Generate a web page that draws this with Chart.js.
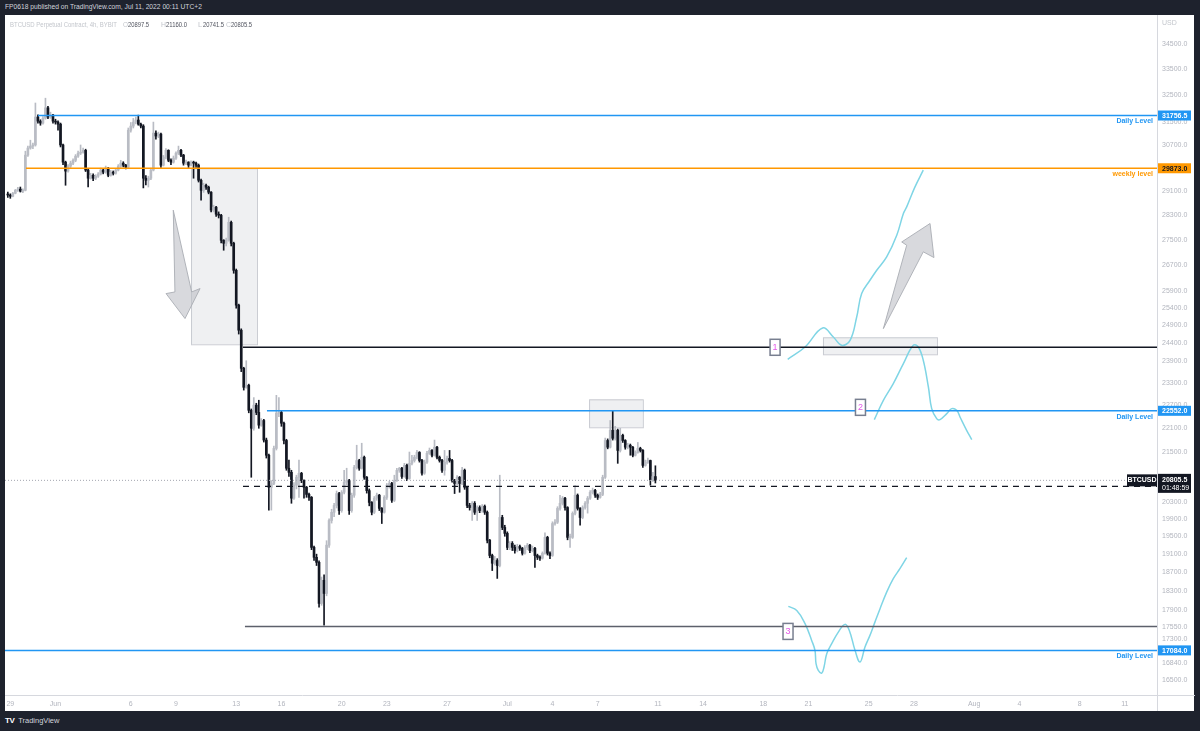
<!DOCTYPE html>
<html><head><meta charset="utf-8">
<script src="https://cdn.jsdelivr.net/npm/chart.js@4.4.1/dist/chart.umd.min.js"></script>
<style>
html,body{margin:0;padding:0;background:#1e222d;width:1200px;height:731px;overflow:hidden;font-family:"Liberation Sans",Arial,sans-serif}
#panel{position:absolute;left:5px;top:15px;width:1189px;height:696px;background:#ffffff}
#c{position:absolute;left:5px;top:15px}
#banner{position:absolute;left:5px;top:3px;color:#d1d4dc;font-size:6.7px;white-space:nowrap}
#footer{position:absolute;left:5px;top:716px;color:#d1d4dc;font-size:7.5px;white-space:nowrap}
#footer .logo{font-weight:bold;font-size:8px;letter-spacing:-0.5px;margin-right:2px;color:#fff}
</style></head>
<body>
<div id="banner">FP0618 published on TradingView.com, Jul 11, 2022 00:11 UTC+2</div>
<div id="panel"></div>
<canvas id="c" width="1190" height="696"></canvas>
<div id="footer"><span class="logo">TV</span> TradingView</div>
<script>
// ---------- data ----------
const candleStartDay = -3.1667;      // May 28 20:00 (days relative to Jun 1)
const candleStepDays = 4 / 24;       // 4h candles
const firstOpen = 28990;
const closes = [
28960,28920,29020,29120,29160,29090,29120,30330,30580,30650,
30690,31700,31550,31480,31660,32040,31700,31770,31550,31515,
31440,30690,30085,29775,29945,30050,30150,30295,30400,30435,
30500,29810,29530,29630,29530,29600,29670,29810,29740,29875,
29630,29740,29700,29810,29945,30050,29980,29910,31220,31370,
31515,31590,31440,31370,29530,29460,29530,29810,31115,31010,
31080,29980,30260,30500,30150,30085,30225,30400,30500,30330,
30050,30085,29980,30085,30050,29980,29460,29120,29290,29225,
29055,28460,28555,28325,28290,27480,27385,27480,28060,27385,
26540,25490,24760,23690,23175,23230,22565,22100,22700,22510,
22180,22300,21800,21420,20640,20730,21590,22490,22510,22230,
21790,21100,21000,20380,20690,20880,20975,20800,20640,20470,
20400,19250,19030,18920,18040,18530,18250,19300,19860,20050,
20210,20490,20090,20520,20760,20800,20090,20450,21120,21290,
21100,21370,20880,20560,20280,20050,20380,20450,20140,20050,
20400,20690,20730,20330,20800,21050,21100,20900,21170,20850,
21220,21290,21370,21490,21290,20980,21250,21470,21540,21420,
21620,21370,21290,21050,21250,21340,21290,20800,20730,20880,
20730,21050,20640,20210,20160,20260,20050,20160,20090,20190,
20050,19410,19070,18900,18960,18850,19930,19700,19565,19250,
19340,19250,19180,19270,19230,19120,19250,19300,19180,19230,
19070,19030,19010,19120,19475,19120,19070,19790,19820,20140,
20260,20380,20160,19475,19475,20025,20450,20140,19930,20160,
20260,20380,20520,20565,20450,20400,20470,20880,21790,21620,
22050,21845,22050,21540,21920,21790,21620,21670,21620,21420,
21490,21590,21540,21170,21245,21290,20820,20897.5,20805.5];
const highs = [
29060,29000,29050,29150,29220,29230,29170,30470,30650,30860,
30760,32220,31780,31600,31720,32400,32100,31880,31800,31620,
31560,31480,30720,30120,30000,30120,30200,30350,30470,30690,
30580,30540,29850,29700,29680,29650,29720,29880,29850,29950,
29900,29800,29780,29850,30000,30150,30100,30010,31300,31500,
31650,31700,31770,31480,31420,29620,29600,29880,31515,31200,
31150,31120,30320,30560,30520,30200,30300,30450,30650,30540,
30360,30160,30100,30130,30120,30090,30020,29500,29360,29330,
29260,29080,28620,28580,28400,28320,27500,27550,28225,28100,
27420,26580,25520,24800,23720,23900,23260,22600,22900,22750,
22830,22350,22330,21850,21450,20800,21650,22960,22900,22550,
22260,21820,21300,21050,20750,20930,21300,21000,20820,20660,
20500,20420,19280,19100,18950,18600,18650,19400,19900,20120,
20260,20550,20520,20560,21050,21100,20830,20500,21170,21670,
21320,21720,21400,20900,20600,20300,20420,20500,20470,20160,
20440,20730,20780,20760,20930,21100,21120,21120,21220,21200,
21500,21420,21420,21540,21510,21320,21300,21520,21600,21560,
21800,21640,21400,21320,21540,21400,21540,21320,20830,20920,
20900,21120,21080,20660,20260,20300,20300,20200,20200,20230,
20220,20080,19430,19100,19050,19000,20930,19980,19750,19600,
19380,19380,19300,19320,19300,19250,19290,19340,19320,19280,
19250,19100,19060,19150,19580,19500,19150,19830,19880,20180,
20450,20420,20400,20180,19550,20060,20680,20480,20160,20200,
20300,20420,20560,20620,20590,20480,20520,20930,21850,21830,
22300,22560,22150,22080,22100,21950,21810,21720,21700,21640,
21530,21740,21620,21560,21300,21350,21300,21000,21160];
const lows = [
28880,28850,28900,29000,29080,29060,29040,29100,30290,30540,
30560,30650,31480,31400,31440,31620,31640,31650,31480,31440,
31220,30620,30000,29290,29740,29900,30000,30100,30250,30350,
30400,29760,29230,29500,29450,29480,29560,29640,29680,29700,
29580,29600,29640,29670,29780,29900,29920,29850,29880,31150,
31300,31450,31400,31300,29200,29300,29230,29480,29780,30900,
30950,29900,29950,30200,30100,30000,30050,30180,30350,30280,
29980,30000,29900,29950,29530,29900,29400,28790,29050,29150,
29000,28400,28400,28250,28200,27400,27165,27300,27450,27300,
26450,25400,24650,23600,23100,23150,22500,20880,22050,22450,
22100,22150,21750,21350,20100,20100,20700,21550,22400,22150,
21700,21050,20900,20260,20350,20600,20400,20750,20380,20400,
20330,19200,18960,18850,17960,18000,17590,18200,19250,19800,
19950,20150,20000,20050,20480,20700,20000,20050,20400,21080,
21050,21080,20830,20500,20200,19990,20020,20330,20090,19790,
20030,20350,20620,20280,20300,20780,21000,20850,20880,20800,
20830,21180,21250,21330,21250,20930,20950,21220,21440,21380,
21400,21330,21250,21000,20930,21200,21250,20760,20490,20700,
20520,20700,20590,20160,20100,19860,20000,19860,20040,20050,
20000,19350,19020,18740,18860,18570,18820,19650,19500,19200,
19200,19180,19120,19150,19180,19080,19100,19200,19130,19150,
18810,18980,18960,18990,19100,19080,19000,19050,19750,19790,
20100,20220,20100,19420,19250,19450,19990,20100,19750,19900,
20120,20030,20350,20480,20400,20350,20380,20440,20850,21580,
21600,21800,21800,21220,21500,21740,21570,21580,21420,21380,
21400,21470,21500,21120,21150,21220,20690,20780,20741.5];

// axes
const xMinDay = -3.353, xMaxDay = 73.14;
const yMinPrice = 16223, yMaxPrice = 35680;
const tickDays = [-3,0,5,8,12,15,19,22,26,30,33,36,40,43,47,50,54,57,61,64,68,71];
const tickLabels = ['29','Jun','6','9','13','16','20','23','27','Jul','4','7','11','14','18','21','25','28','Aug','4','8','11'];
const priceTicks = [34500,33500,32500,31500,30700,29100,28300,27500,26700,25900,25400,24900,24400,23900,23300,22700,22100,21500,20700,20300,19900,19500,19100,18700,18300,17900,17550,17300,16840,16500];

// header legend
const legendTitle = 'BTCUSD Perpetual Contract, 4h, BYBIT';
const legendKeys = ['O', 'H', 'L', 'C'];
const legendValues = ['20897.5', '21160.0', '20741.5', '20805.5'];

// horizontal levels
const levelPrices = [31756.5, 29873.0, 24275, 22552.0, 20660, 17565, 17084.0, 20805.5];
const levelStartDays = [-1.16, -1.96, 12.45, 14.04, 12.45, 12.58, -3.353, -3.353];
const levelNotes = ['Daily Level', 'weekly level', '', 'Daily Level', '', '', 'Daily Level', ''];

// rectangles (days, prices)
const zoneStartDays = [9.0, 35.43, 50.96];
const zoneEndDays = [13.38, 39.0, 58.53];
const zoneTopPrices = [29873, 22854, 24558];
const zoneBottomPrices = [24360, 22126, 24079];

// arrows (polygon vertices)
const arrowDownDays = [7.82, 7.93, 7.34, 8.60, 9.60, 9.04];
const arrowDownPrices = [28456, 25883, 25834, 25097, 25985, 25883];
const arrowUpDays = [54.97, 56.52, 56.19, 58.07, 58.33, 57.62];
const arrowUpPrices = [24806, 27323, 27427, 28020, 26936, 27115];

// numbered notes
const markerLabels = ['1', '2', '3'];
const markerDays = [47.78, 53.45, 48.64];
const markerPrices = [24275, 22643, 17464];

// hand-drawn projection paths
const pathADays = [48.62,49.77,50.94,51.65,52.20,52.76,53.20,53.53,54.08,54.53,55.19,55.86,56.30,56.52,57.07,57.62];
const pathAPrices = [23940,24283,24824,24566,24331,24472,25143,25835,26236,26542,26955,27642,28347,28565,29235,29807];
const pathBDays = [54.37,54.97,55.63,56.30,56.96,57.29,57.62,57.96,58.18,58.51,58.73,59.18,59.51,59.84,60.06,60.50,60.84];
const pathBPrices = [22323,22828,23275,23821,24331,24283,23912,23183,22610,22349,22323,22478,22610,22565,22391,22048,21812];
const pathCDays = [48.66,49.22,49.77,50.21,50.43,50.50,50.65,50.88,51.03,51.21,51.54,51.98,52.42,52.71,53.09,53.42,53.75,54.08,54.41,54.75,55.19,55.63,56.07,56.52];
const pathCPrices = [17978,17894,17621,17283,17084,16823,16693,16641,16758,17019,17217,17450,17607,17484,17084,16854,17150,17384,17653,17930,18278,18565,18781,19023];

// ---------- styles ----------
const UP = '#b9bcc4', DOWN = '#131722';
const BLUE = '#2196f3', ORANGE = '#ff9800', CYAN = '#7fd5e5';
const FONT = '"Liberation Sans", Arial, sans-serif';
const levelColors = [BLUE, ORANGE, '#131722', BLUE, '#131722', '#5d606b', BLUE, '#a3a6af'];
const levelDash = [[], [], [], [], [6,5], [], [], [1,2]];
const levelWidth = [1.5, 1.5, 1.5, 1.5, 1.2, 1.5, 1.5, 1];

// ---------- build ----------
const xs = closes.map((_, i) => candleStartDay + i * candleStepDays);
const opens = closes.map((c, i) => i === 0 ? firstOpen : closes[i - 1]);
const candleColors = closes.map((c, i) => c >= opens[i] ? UP : DOWN);

const datasets = [];
datasets.push({
  type: 'bar', label: 'body', order: 1, grouped: false,
  data: xs.map((x, i) => ({x, y: [opens[i], closes[i]]})),
  backgroundColor: candleColors, barThickness: 2, minBarLength: 1, borderWidth: 0
});
datasets.push({
  type: 'bar', label: 'wick', order: 2, grouped: false,
  data: xs.map((x, i) => ({x, y: [lows[i], highs[i]]})),
  backgroundColor: candleColors, barThickness: 1, minBarLength: 1, borderWidth: 0
});
levelPrices.forEach((p, k) => {
  datasets.push({
    type: 'line', order: 0,
    data: [{x: levelStartDays[k], y: p}, {x: xMaxDay, y: p}],
    borderColor: levelColors[k], borderWidth: levelWidth[k], borderDash: levelDash[k],
    pointRadius: 0, fill: false
  });
});
[[pathADays, pathAPrices], [pathBDays, pathBPrices], [pathCDays, pathCPrices]].forEach(([d, p]) => {
  datasets.push({
    type: 'line', order: 0,
    data: d.map((x, i) => ({x, y: p[i]})),
    borderColor: CYAN, borderWidth: 1.5, tension: 0.4, pointRadius: 0, fill: false
  });
});

function P(chart, d, p) {
  return [chart.scales.x.getPixelForValue(d), chart.scales.y.getPixelForValue(p)];
}
function poly(ctx, pts) {
  ctx.beginPath();
  pts.forEach((pt, i) => i ? ctx.lineTo(pt[0], pt[1]) : ctx.moveTo(pt[0], pt[1]));
  ctx.closePath();
}

const overlay = {
  id: 'overlay',
  beforeDatasetsDraw(chart) {
    const ctx = chart.ctx, a = chart.chartArea;
    ctx.save();
    ctx.beginPath(); ctx.rect(a.left, a.top, a.right - a.left, a.bottom - a.top); ctx.clip();
    zoneStartDays.forEach((d, k) => {
      const [x1, y1] = P(chart, d, zoneTopPrices[k]);
      const [x2, y2] = P(chart, zoneEndDays[k], zoneBottomPrices[k]);
      ctx.fillStyle = 'rgba(214,216,222,0.38)';
      ctx.fillRect(x1, y1, x2 - x1, y2 - y1);
      ctx.strokeStyle = 'rgba(190,193,200,0.8)'; ctx.lineWidth = 1;
      ctx.strokeRect(x1 + 0.5, y1 + 0.5, x2 - x1, y2 - y1);
    });
    ctx.restore();
  },
  afterDatasetsDraw(chart) {
    const ctx = chart.ctx, a = chart.chartArea;
    ctx.save();
    [[arrowDownDays, arrowDownPrices], [arrowUpDays, arrowUpPrices]].forEach(([d, p]) => {
      poly(ctx, d.map((x, i) => P(chart, x, p[i])));
      ctx.fillStyle = 'rgba(190,192,198,0.6)'; ctx.fill();
      ctx.strokeStyle = 'rgba(170,173,180,0.9)'; ctx.lineWidth = 1; ctx.stroke();
    });
    ctx.font = 'bold 7px ' + FONT; ctx.textAlign = 'right'; ctx.textBaseline = 'middle';
    levelNotes.forEach((t, k) => {
      if (!t) return;
      const y = chart.scales.y.getPixelForValue(levelPrices[k]);
      ctx.fillStyle = levelColors[k];
      ctx.fillText(t, a.right - 4, y + 6);
    });
    markerLabels.forEach((t, k) => {
      const [x, y] = P(chart, markerDays[k], markerPrices[k]);
      ctx.fillStyle = '#ffffff'; ctx.fillRect(x - 5, y - 8, 10, 16);
      ctx.strokeStyle = '#787f90'; ctx.lineWidth = 1.5; ctx.strokeRect(x - 5, y - 8, 10, 16);
      ctx.fillStyle = '#e357e8'; ctx.font = '9px ' + FONT; ctx.textAlign = 'center'; ctx.textBaseline = 'middle';
      ctx.fillText(t, x, y + 0.5);
    });
    const yc = chart.scales.y.getPixelForValue(levelPrices[7]);
    ctx.fillStyle = '#131722'; ctx.fillRect(a.right - 30, yc - 6, 30, 12);
    ctx.fillStyle = '#ffffff'; ctx.font = 'bold 7px ' + FONT; ctx.textAlign = 'center';
    ctx.fillText('BTCUSD', a.right - 15, yc);
    ctx.restore();
  },
  afterDraw(chart) {
    const ctx = chart.ctx, a = chart.chartArea, W = chart.width, H = chart.height;
    ctx.save();
    // header legend
    ctx.textAlign = 'left'; ctx.textBaseline = 'middle'; ctx.font = '7.5px ' + FONT;
    ctx.fillStyle = '#c3c6cc';
    ctx.fillText(legendTitle, 5, 9.5, 107);
    const keyX = [118, 156, 193, 221];
    legendKeys.forEach((k, i) => {
      ctx.fillStyle = '#c3c6cc'; ctx.fillText(k, keyX[i], 9.5, 5);
      ctx.fillStyle = '#50535e'; ctx.fillText(legendValues[i], keyX[i] + 5, 9.5, 21);
    });
    // separators
    ctx.strokeStyle = '#d6d8de'; ctx.lineWidth = 1;
    ctx.beginPath(); ctx.moveTo(a.right + 0.5, 0); ctx.lineTo(a.right + 0.5, H); ctx.stroke();
    ctx.beginPath(); ctx.moveTo(0, a.bottom + 0.5); ctx.lineTo(W, a.bottom + 0.5); ctx.stroke();
    ctx.fillStyle = '#c3c6cc'; ctx.font = '7px ' + FONT;
    ctx.fillText('USD', a.right + 5, 8);
    [0, 1, 3, 6].forEach(k => {
      const y = chart.scales.y.getPixelForValue(levelPrices[k]);
      ctx.fillStyle = levelColors[k];
      ctx.fillRect(a.right + 1, y - 5, 33, 10);
      ctx.fillStyle = k === 1 ? '#131722' : '#ffffff';
      ctx.font = 'bold 7px ' + FONT;
      ctx.fillText(levelPrices[k].toFixed(1), a.right + 5, y + 0.5);
    });
    const yc = chart.scales.y.getPixelForValue(levelPrices[7]);
    ctx.fillStyle = '#131722'; ctx.fillRect(a.right + 1, yc - 6.5, 33, 19);
    ctx.fillStyle = '#ffffff'; ctx.font = 'bold 7px ' + FONT;
    ctx.fillText(levelPrices[7].toFixed(1), a.right + 5, yc);
    ctx.font = '7px ' + FONT;
    ctx.fillText('01:48:59', a.right + 5, yc + 7.5);
    ctx.restore();
  }
};

function noPad(s) { s.paddingTop = 0; s.paddingBottom = 0; s.paddingLeft = 0; s.paddingRight = 0; }

new Chart(document.getElementById('c'), {
  type: 'bar',
  data: {datasets},
  plugins: [overlay],
  options: {
    responsive: false, animation: false, devicePixelRatio: 1,
    layout: {padding: 0},
    plugins: {legend: {display: false}, tooltip: {enabled: false}},
    scales: {
      x: {
        type: 'linear', min: xMinDay, max: xMaxDay, offset: false,
        grid: {display: false, drawTicks: false}, border: {display: false},
        afterBuildTicks: s => { s.ticks = tickDays.map(v => ({value: v})); },
        afterFit: s => { s.height = 16; noPad(s); },
        ticks: {autoSkip: false, maxRotation: 0, minRotation: 0, padding: 5, color: '#b2b5be',
          font: {size: 7, family: FONT},
          callback: v => tickLabels[tickDays.indexOf(v)]}
      },
      y: {
        type: 'logarithmic', position: 'right', min: yMinPrice, max: yMaxPrice,
        grid: {display: false, drawTicks: false}, border: {display: false},
        afterBuildTicks: s => { s.ticks = priceTicks.map(v => ({value: v})); },
        afterFit: s => { s.width = 38; noPad(s); },
        ticks: {autoSkip: false, padding: 5, color: '#b2b5be', font: {size: 7, family: FONT},
          callback: v => Number(v).toFixed(1)}
      }
    }
  }
});
</script>
</body></html>
